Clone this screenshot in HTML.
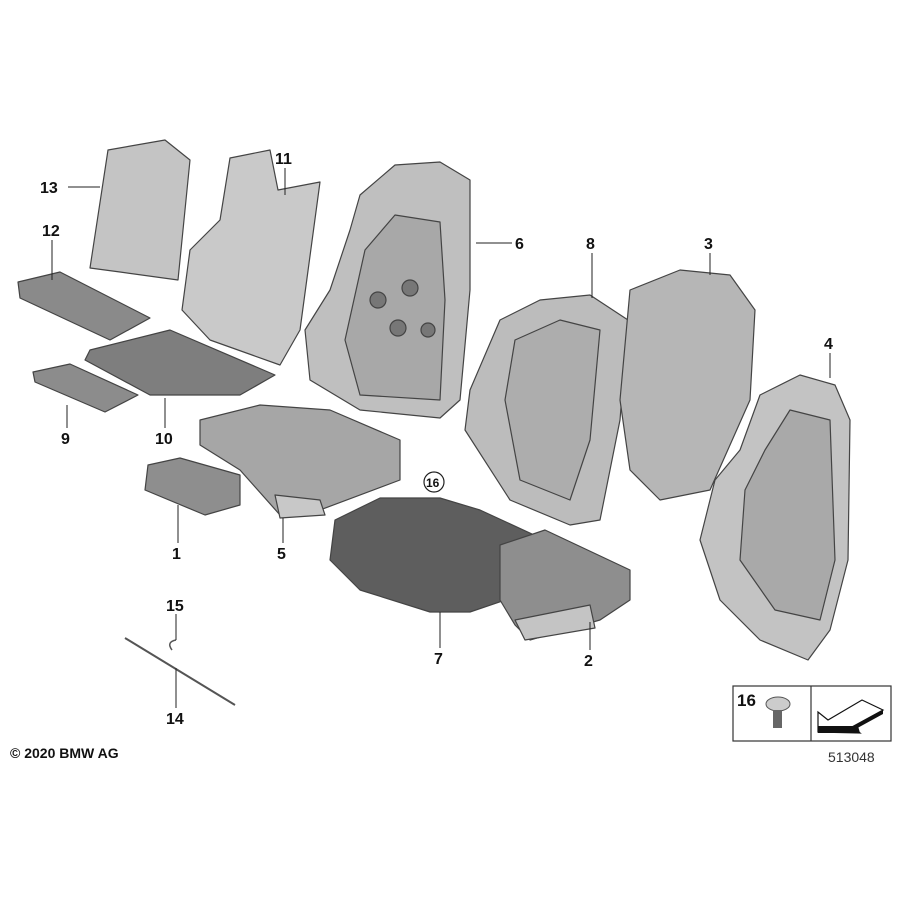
<!DOCTYPE html>
<html><head><meta charset="utf-8"><style>
html,body{margin:0;padding:0;background:#fff}
svg{display:block}
text{font-family:"Liberation Sans",Arial,sans-serif;font-weight:bold;font-size:16px;fill:#111}
</style></head><body>
<svg width="900" height="900" viewBox="0 0 900 900" xmlns="http://www.w3.org/2000/svg">
<g stroke="#444" stroke-width="1.2" stroke-linejoin="round">
<!-- 13 panel -->
<path d="M108,150 L165,140 L190,160 L178,280 L120,272 L90,268 Z" fill="#c4c4c4"/>
<!-- 12 pad -->
<path d="M18,282 L60,272 L150,318 L110,340 L20,298 Z" fill="#8a8a8a"/>
<!-- 9 pad -->
<path d="M33,372 L70,364 L138,395 L105,412 L35,382 Z" fill="#8c8c8c"/>
<!-- 10 mat -->
<path d="M90,350 L170,330 L275,375 L240,395 L150,395 L85,360 Z" fill="#7e7e7e"/>
<!-- 11 foam -->
<path d="M230,158 L270,150 L278,190 L320,182 L300,330 L280,365 L210,340 L182,310 L190,250 L220,220 Z" fill="#c9c9c9"/>
<!-- 6 frame -->
<path d="M360,195 L395,165 L440,162 L470,180 L470,290 L460,400 L440,418 L360,410 L310,380 L305,330 L330,290 L350,230 Z" fill="#bfbfbf"/>
<path d="M365,250 L395,215 L440,222 L445,300 L440,400 L360,395 L345,340 Z" fill="#a8a8a8"/>
<circle cx="378" cy="300" r="8" fill="#777"/><circle cx="410" cy="288" r="8" fill="#777"/>
<circle cx="398" cy="328" r="8" fill="#777"/><circle cx="428" cy="330" r="7" fill="#777"/>
<!-- 5 seat frame -->
<path d="M200,420 L260,405 L330,410 L400,440 L400,480 L320,510 L280,515 L240,470 L200,445 Z" fill="#a6a6a6"/>
<path d="M275,495 L320,500 L325,515 L280,518 Z" fill="#c8c8c8"/>
<!-- 1 pad -->
<path d="M148,465 L180,458 L240,475 L240,505 L205,515 L145,490 Z" fill="#8e8e8e"/>
<!-- 8 back -->
<path d="M500,320 L540,300 L590,295 L628,320 L620,420 L600,520 L570,525 L510,500 L465,430 L470,390 Z" fill="#bcbcbc"/>
<path d="M515,340 L560,320 L600,330 L590,440 L570,500 L520,480 L505,400 Z" fill="#adadad"/>
<!-- 3 back -->
<path d="M630,290 L680,270 L730,275 L755,310 L750,400 L710,490 L660,500 L630,470 L620,400 Z" fill="#b6b6b6"/>
<!-- 4 back -->
<path d="M760,395 L800,375 L835,385 L850,420 L848,560 L830,630 L808,660 L760,640 L720,600 L700,540 L715,480 L740,450 Z" fill="#c3c3c3"/>
<path d="M765,450 L790,410 L830,420 L835,560 L820,620 L775,610 L740,560 L745,490 Z" fill="#a9a9a9"/>
<!-- 7 cushion -->
<path d="M335,520 L380,498 L440,498 L480,510 L545,540 L535,590 L470,612 L430,612 L360,590 L330,560 Z" fill="#5e5e5e"/>
<!-- 2 seat -->
<path d="M500,545 L545,530 L630,570 L630,600 L600,620 L530,640 L515,625 L500,600 Z" fill="#8e8e8e"/>
<path d="M515,620 L590,605 L595,628 L525,640 Z" fill="#c4c4c4"/>
</g>
<!-- 14/15 wire -->
<path d="M125,638 L235,705" stroke="#555" stroke-width="2" fill="none"/>
<path d="M172,650 q-6,-8 4,-10" stroke="#555" stroke-width="1.5" fill="none"/>
<!-- leader lines -->
<g stroke="#222" stroke-width="1" fill="none">
<line x1="68" y1="187" x2="100" y2="187"/>
<line x1="52" y1="240" x2="52" y2="280"/>
<line x1="285" y1="168" x2="285" y2="195"/>
<line x1="476" y1="243" x2="512" y2="243"/>
<line x1="592" y1="253" x2="592" y2="298"/>
<line x1="710" y1="253" x2="710" y2="275"/>
<line x1="830" y1="353" x2="830" y2="378"/>
<line x1="67" y1="405" x2="67" y2="428"/>
<line x1="165" y1="398" x2="165" y2="428"/>
<line x1="178" y1="505" x2="178" y2="543"/>
<line x1="283" y1="518" x2="283" y2="543"/>
<line x1="440" y1="612" x2="440" y2="648"/>
<line x1="590" y1="622" x2="590" y2="650"/>
<line x1="176" y1="614" x2="176" y2="640"/>
<line x1="176" y1="668" x2="176" y2="708"/>
</g>
<text x="40" y="193">13</text>
<text x="42" y="236">12</text>
<text x="275" y="164">11</text>
<text x="515" y="249">6</text>
<text x="586" y="249">8</text>
<text x="704" y="249">3</text>
<text x="824" y="349">4</text>
<text x="61" y="444">9</text>
<text x="155" y="444">10</text>
<text x="172" y="559">1</text>
<text x="277" y="559">5</text>
<circle cx="434" cy="482" r="10" fill="#fff" stroke="#222" stroke-width="1.2"/>
<text x="426" y="487" style="font-size:12px">16</text>
<text x="434" y="664">7</text>
<text x="584" y="666">2</text>
<text x="166" y="611">15</text>
<text x="166" y="724">14</text>
<text x="10" y="758" style="font-size:14px">© 2020 BMW AG</text>
<!-- legend box -->
<rect x="733" y="686" width="158" height="55" fill="#fff" stroke="#333" stroke-width="1.2"/>
<line x1="811" y1="686" x2="811" y2="741" stroke="#333" stroke-width="1.2"/>
<text x="737" y="706" style="font-size:17px">16</text>
<ellipse cx="778" cy="704" rx="12" ry="7" fill="#ccc" stroke="#555"/>
<rect x="773" y="710" width="9" height="18" fill="#666"/>
<path d="M818,732 L818,712 L828,720 L862,700 L883,710 L852,727 L860,733 Z" fill="#fff" stroke="#111" stroke-width="1.2"/>
<path d="M818,726 L858,726 L860,733 L818,733 Z M883,710 L883,714 L852,731 L852,727 Z" fill="#111"/>
<text x="828" y="762" style="font-size:14px;font-weight:normal;fill:#333">513048</text>
</svg>
</body></html>
